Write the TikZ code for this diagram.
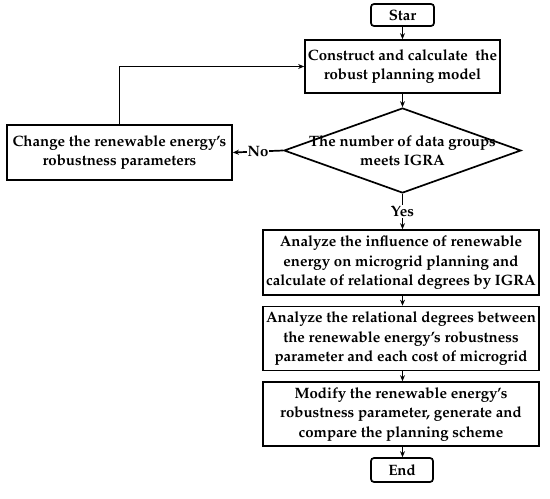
\documentclass[tikz,border=0pt]{standalone}
\usepackage[T1]{fontenc}
\usepackage{mathpazo}
\usetikzlibrary{shapes.geometric,arrows.meta}
\begin{document}
\begin{tikzpicture}[x=1pt,y=-1pt,
  every node/.style={font=\fontsize{15}{19.5}\selectfont\bfseries, align=center, inner sep=0pt},
  box/.style={draw, line width=1.7pt},
  term/.style={draw, line width=1.7pt, rounded corners=3pt},
  conn/.style={line width=1.7pt, -{Stealth[length=6pt,width=5pt]}},
  lab/.style={fill=white, inner sep=1pt}]
\useasboundingbox (0,0) rectangle (550,499);
\node[term, minimum width=63, minimum height=22] (star) at (402.5,15) {Star};
\node[box, minimum width=195, minimum height=53] (con) at (402.5,66.5) {Construct and calculate\ \ the\\robust planning model};
\node[draw, diamond, line width=1.7pt, minimum width=237, minimum height=85] (dia) at (402.5,150.5) {};
\node (diatext) at (dia.center) {The number of data groups\\meets IGRA};
\node[box, minimum width=225, minimum height=55] (chg) at (119.5,152.5) {Change the renewable energy's\\robustness parameters};
\node[box, minimum width=276, minimum height=65] (b1) at (401,262.5) {Analyze the influence of renewable\\energy on microgrid planning and\\calculate of relational degrees by IGRA};
\node[box, minimum width=276, minimum height=64] (b2) at (401,338.5) {Analyze the relational degrees between\\the renewable energy's robustness\\parameter and each cost of microgrid};
\node[box, minimum width=276, minimum height=64] (b3) at (401,414) {Modify the renewable energy's\\robustness parameter, generate and\\compare the planning scheme};
\node[term, minimum width=62, minimum height=24] (end) at (402,470) {End};
\draw[conn] (star) -- (con);
\draw[conn] (con) -- (dia);
\draw[conn] (dia.west) -- node[lab]{No} (chg.east);
\draw[conn] (dia.south) -- node[lab]{Yes} (b1.north -| dia.south);
\draw[conn] (chg.north) |- (con.west);
\draw[conn] (b1.south -| dia.south) -- (b2.north -| dia.south);
\draw[conn] (b2.south -| dia.south) -- (b3.north -| dia.south);
\draw[conn] (b3.south -| dia.south) -- (end.north -| dia.south);
\end{tikzpicture}
\end{document}
